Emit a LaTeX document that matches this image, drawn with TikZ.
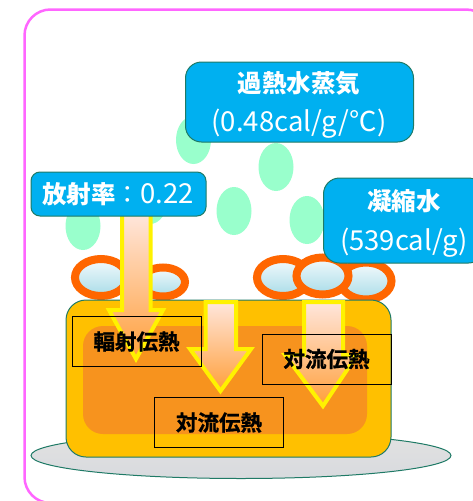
\documentclass[tikz,border=0pt]{standalone}
\usepackage{fontspec}
\setmainfont{Noto Sans CJK JP}
\newfontfamily\heavyjp[BoldFont={Noto Sans CJK JP Bold},BoldFeatures={FakeBold=1}]{Noto Sans CJK JP}
\usetikzlibrary{shapes}
\definecolor{framepink}{HTML}{FF66FF}
\definecolor{labelblue}{HTML}{00B0F0}
\definecolor{edgeteal}{HTML}{1F7A66}
\definecolor{steamgreen}{HTML}{99FFCC}
\definecolor{ringorange}{HTML}{FF6600}
\definecolor{bodyamber}{HTML}{FFC000}
\definecolor{coreorange}{HTML}{F7931E}
\definecolor{droptop}{HTML}{F4FAFC}
\definecolor{dropmiddle}{HTML}{C4E6EF}
\definecolor{dropbottom}{HTML}{A8DCE8}
\definecolor{arrowtop}{HTML}{FFE6DC}
\definecolor{arrowbottom}{HTML}{FF9F3A}
\definecolor{platetop}{HTML}{E2E2E2}
\definecolor{platemiddle}{HTML}{B8B8B8}
\definecolor{platebottom}{HTML}{D8DADE}
\tikzset{
  labelbox/.style={draw=edgeteal, line width=1pt, fill=labelblue, inner sep=0pt},
  labeltext/.style={text=white, inner sep=0pt},
  heatbox/.style={draw=black, line width=1pt, minimum width=129pt, minimum height=50pt, inner sep=0pt,
    font=\fontsize{21.5}{25}\selectfont\heavyjp\bfseries},
  steam/.style={fill=steamgreen, draw=none},
  drop/.style={draw=ringorange, line width=8pt, top color=droptop, middle color=dropmiddle, bottom color=dropbottom},
  heatarrow/.style={draw=yellow, line width=4pt, miter limit=10, top color=arrowtop, bottom color=arrowbottom},
}
\newcommand{\bigjp}{\fontsize{24.5}{30}\selectfont\bfseries}
\newcommand{\thinjp}{\fontsize{27.5}{30}\selectfont}

\begin{document}
\begin{tikzpicture}[x=1pt, y=-1pt]
\useasboundingbox (0,0) rectangle (472,501);

% outer frame
\draw[framepink, line width=2.5pt, rounded corners=26pt] (24.5,9.5) rectangle (492,503);

% steam
\fill[steam] (193.5,140) ellipse (17.5 and 24);
\fill[steam] (83,226) ellipse (17.5 and 24);
\fill[steam] (150,200) ellipse (17.5 and 24);
\fill[steam] (234,211) ellipse (17.5 and 24);
\fill[steam] (276,167) ellipse (17.5 and 24);
\fill[steam] (307,220) ellipse (17.5 and 24);

% plate under the body
\draw[edgeteal, line width=1pt, top color=platetop, middle color=platemiddle, bottom color=platebottom] (241,455.5) ellipse (210 and 23);

% drops on the surface
\draw[drop] (163,282) ellipse (22 and 14.5);
\draw[drop] (101,277.5) ellipse (26 and 18.5);
\draw[drop] (366,281) ellipse (25.5 and 18.5);
\draw[drop] (283,277.5) ellipse (26 and 18.5);
\draw[drop] (322.5,276) ellipse (26 and 18.5);

% body
\draw[edgeteal, line width=1pt, fill=bodyamber, rounded corners=20pt] (66,300) rectangle (391,457);
\fill[coreorange, rounded corners=20pt] (83,326) rectangle (367,434);

% arrows
\draw[heatarrow] (122,214) -- (150.5,214) -- (150.5,310) -- (163,310) -- (136,359) -- (109,310) -- (122,310) -- cycle;
\draw[heatarrow] (205.5,302) -- (236,302) -- (236,349) -- (251,349) -- (220.5,391) -- (190,349) -- (205.5,349) -- cycle;
\draw[heatarrow] (304,302) -- (343,302) -- (343,355) -- (357,355) -- (323,406) -- (285,355) -- (304,355) -- cycle;

% labels
\node[labelbox, rounded corners=16pt, minimum width=228pt, minimum height=80pt] (steambox) at (299.5,102) {};
\node[labeltext, font=\bigjp] (steamname) at (299,83) {過熱水蒸気};
\node[labeltext, font=\thinjp] (steamvalue) at (299,124) {(0.48cal/g/℃)};
\node[labelbox, rounded corners=9pt, minimum width=175pt, minimum height=44pt] (ratebox) at (118.5,194) {};
\node[labeltext] (ratename) at (118,194) {{\bigjp 放射率}{\fontsize{24.5}{30}\selectfont ：}{\thinjp 0.22}};
\node[labelbox, rounded corners=16pt, minimum width=161pt, minimum height=85pt] (waterbox) at (404,220.5) {};
\node[labeltext, font=\bigjp] (watername) at (404,201) {凝縮水};
\node[labeltext, font=\thinjp] (watervalue) at (404,243) {(539cal/g)};

% heat transfer boxes
\node[heatbox] (radiation) at (136.5,341.5) {輻射伝熱};
\node[heatbox] (convectionlow) at (219,422.5) {対流伝熱};
\node[heatbox] (convectionhigh) at (326.5,359) {対流伝熱};

\end{tikzpicture}
\end{document}
